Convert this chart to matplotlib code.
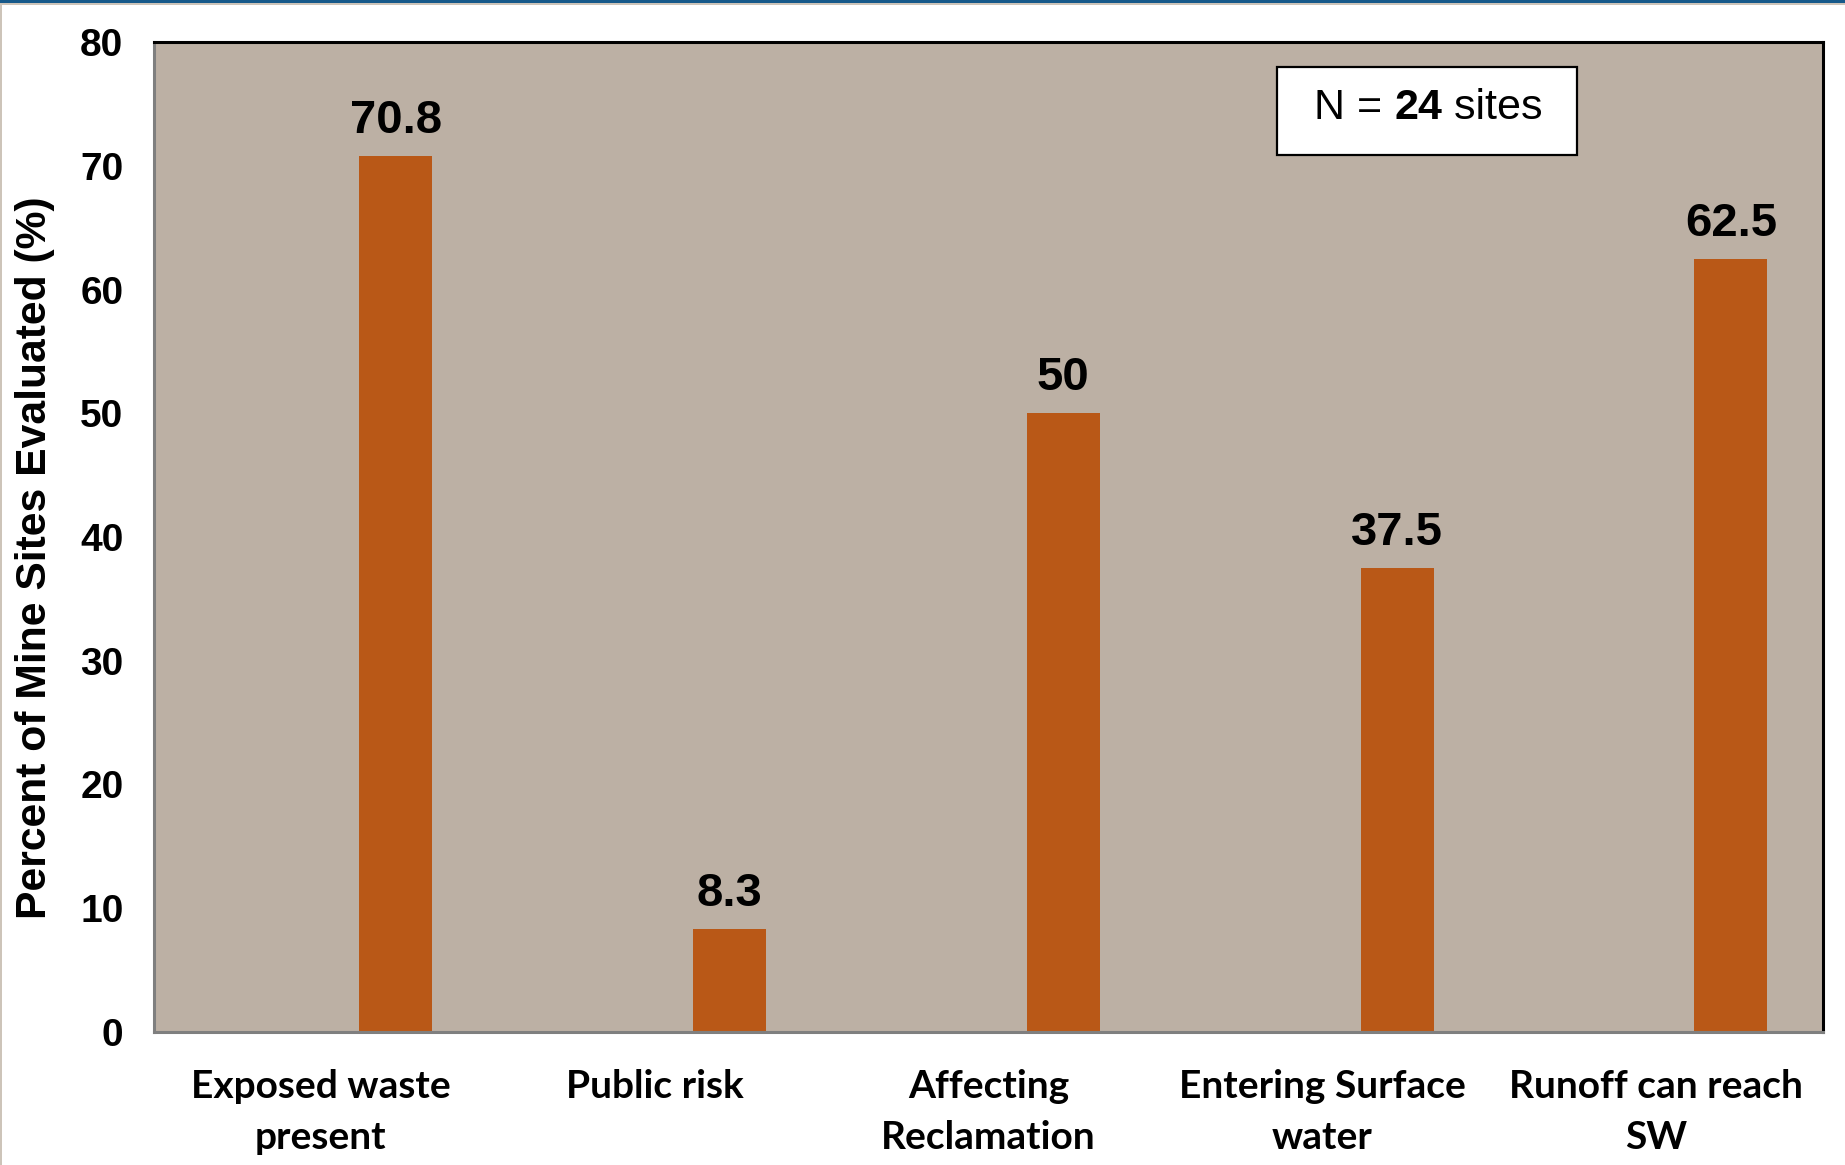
import numpy as np
import matplotlib
matplotlib.use("Agg")
import matplotlib.pyplot as plt
from matplotlib.patches import Rectangle

# Data ------------------------------------------------------------------

categories = ["Exposed waste\npresent", "Public risk", "Affecting\nReclamation",
              "Entering Surface\nwater", "Runoff can reach\nSW"]
percent = [70.8, 8.3, 50, 37.5, 62.5]
value_labels = ["70.8", "8.3", "50", "37.5", "62.5"]
y_ticks = [0, 10, 20, 30, 40, 50, 60, 70, 80]
n_sites = 24

# Styles ----------------------------------------------------------------

bg_color = "#bcb0a4"
bar_color = "#b95817"
W, H, DPI = 1845, 1165, 100

fig = plt.figure(figsize=(W / DPI, H / DPI), dpi=DPI)
fig.patch.set_facecolor("white")

# slide frame: blue rule on top, thin tan edge below it and on the left
fig.patches.append(Rectangle((0, 1 - 3 / H), 1, 3 / H, transform=fig.transFigure,
                             facecolor="#17598a", edgecolor="none"))
fig.patches.append(Rectangle((0, 1 - 5 / H), 1, 2 / H, transform=fig.transFigure,
                             facecolor="#cdc4b9", edgecolor="none"))
fig.patches.append(Rectangle((0, 0), 2 / W, 1 - 3 / H, transform=fig.transFigure,
                             facecolor="#cdc4b9", edgecolor="none"))

ax_l, ax_r, ax_t, ax_b = 154, 1823, 42, 1032
ax = fig.add_axes([ax_l / W, 1 - ax_b / H, (ax_r - ax_l) / W, (ax_b - ax_t) / H])
ax.set_facecolor(bg_color)

x = np.arange(len(categories))
bar_off, bar_w = 0.224, 0.219
ax.bar(x + bar_off, percent, width=bar_w, color=bar_color, zorder=2)

for xi, val, lab in zip(x, percent, value_labels):
    ax.annotate(lab, (xi + bar_off, val), xytext=(0, 16.5), textcoords="offset points",
                ha="center", va="baseline", fontsize=34, fontweight="bold",
                family="Liberation Sans")

ax.set_xlim(-0.5, len(categories) - 0.5)
ax.set_ylim(0, 80)
ax.set_yticks(y_ticks)
ax.set_yticklabels([str(t) for t in y_ticks], fontsize=28, fontweight="bold",
                   family="Liberation Sans")
ax.set_xticks(x)
ax.set_xticklabels(categories, fontsize=28, fontweight="bold", family="Lato",
                   linespacing=1.55)
ax.tick_params(axis="y", length=0, pad=22)
ax.tick_params(axis="x", length=0, pad=27)

# y axis title, placed in figure pixels
fig.text(35 / W, 1 - 558 / H, "Percent of Mine Sites Evaluated (%)", rotation=90,
         ha="center", va="center", fontsize=30.7, fontweight="bold",
         family="Liberation Sans")

for side in ["top", "right"]:
    ax.spines[side].set_color("black")
    ax.spines[side].set_linewidth(2.2)
for side in ["left", "bottom"]:
    ax.spines[side].set_color("#7f7f7f")
    ax.spines[side].set_linewidth(2.2)

# sample size box
box_x0, box_x1, box_y0, box_y1 = 1277, 1577, 67, 155
ax.add_patch(Rectangle(((box_x0 - ax_l) / (ax_r - ax_l), 1 - (box_y1 - ax_t) / (ax_b - ax_t)),
                       (box_x1 - box_x0) / (ax_r - ax_l), (box_y1 - box_y0) / (ax_b - ax_t),
                       transform=ax.transAxes, facecolor="white", edgecolor="black",
                       linewidth=1.6, zorder=5))
t1 = ax.text((1314 - ax_l) / (ax_r - ax_l), 1 - (119 - ax_t) / (ax_b - ax_t), "N = ",
             transform=ax.transAxes, ha="left", va="baseline", fontsize=31,
             family="Liberation Sans", zorder=6)
t2 = ax.annotate(str(n_sites), xy=(1, 0), xycoords=t1, ha="left", va="bottom",
                 fontsize=31, fontweight="bold", family="Liberation Sans", zorder=6)
ax.annotate(" sites", xy=(1, 0), xycoords=t2, ha="left", va="bottom",
            fontsize=31, family="Liberation Sans", zorder=6)

fig.savefig("out.png", dpi=DPI, facecolor=fig.get_facecolor())
